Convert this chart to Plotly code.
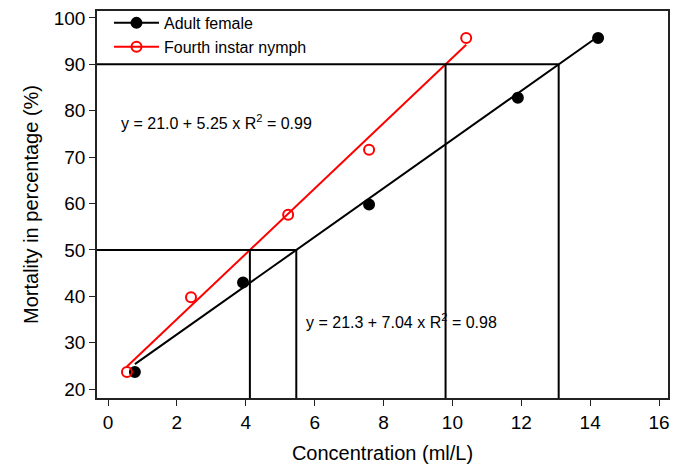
import plotly.graph_objects as go

# ---- data ----
adult_x = [0.78, 3.92, 7.58, 11.9, 14.23]
adult_y = [23.7, 43.0, 59.8, 82.8, 95.7]
nymph_x = [0.55, 2.41, 5.23, 7.58, 10.4]
nymph_y = [23.7, 39.8, 57.6, 71.6, 95.7]

series_names = ["Adult female", "Fourth instar nymph"]
# regression lines as drawn in the chart (intercept, slope)
adult_fit = (21.3, 5.25)
nymph_fit = (21.0, 7.04)
lethal_levels = [50, 90]

equation_texts = ["y = 21.0 + 5.25 x R<sup>2</sup> = 0.99",
                  "y = 21.3 + 7.04 x R<sup>2</sup> = 0.98"]
equation_pos = [(3.16, 77.6), (8.52, 34.6)]

x_ticks = [0, 2, 4, 6, 8, 10, 12, 14, 16]
y_ticks = [20, 30, 40, 50, 60, 70, 80, 90, 100]
x_range = [-0.32, 16.26]
y_range = [18.1, 101.5]

FONT = "Liberation Sans, Arial, sans-serif"

fig = go.Figure()

def add_series(xs, ys, fit, name, color, filled):
    b, m = fit
    x0, x1 = min(xs), max(xs)
    marker = dict(symbol="circle" if filled else "circle-open",
                  size=10, color=color, line=dict(color=color, width=2))
    fig.add_trace(go.Scatter(
        x=[x0, x1], y=[b + m * x0, b + m * x1], mode="lines",
        line=dict(color=color, width=2), showlegend=False, hoverinfo="skip"))
    fig.add_trace(go.Scatter(
        x=xs, y=ys, mode="markers", name=name, showlegend=False, marker=marker))
    # legend entry (line + marker)
    fig.add_trace(go.Scatter(
        x=[None], y=[None], mode="lines+markers", name=name,
        line=dict(color=color, width=2), marker=marker))

add_series(adult_x, adult_y, adult_fit, series_names[0], "black", True)
add_series(nymph_x, nymph_y, nymph_fit, series_names[1], "red", False)

# drop lines at LC50 / LC90
for lvl in lethal_levels:
    xs = [(lvl - f[0]) / f[1] for f in (adult_fit, nymph_fit)]
    fig.add_shape(type="line", xref="x", yref="y", x0=x_range[0], x1=max(xs),
                  y0=lvl, y1=lvl, line=dict(color="black", width=2))
    for xv in xs:
        fig.add_shape(type="line", xref="x", yref="y", x0=xv, x1=xv,
                      y0=y_range[0], y1=lvl, line=dict(color="black", width=2))

for txt, (ex, ey) in zip(equation_texts, equation_pos):
    fig.add_annotation(x=ex, y=ey, xref="x", yref="y", text=txt, showarrow=False,
                       xanchor="center", yanchor="middle",
                       font=dict(family=FONT, size=16, color="black"))

axis_common = dict(showline=True, linecolor="#222", linewidth=1.5, mirror=True,
                   ticks="outside", ticklen=6, tickwidth=1.2, tickcolor="#222",
                   showgrid=False, zeroline=False, automargin=False,
                   tickfont=dict(family=FONT, size=19, color="black"))

fig.update_layout(
    width=687, height=464,
    margin=dict(l=97, r=19, t=11, b=66, autoexpand=False),
    plot_bgcolor="white", paper_bgcolor="white",
    font=dict(family=FONT, color="black"),
    xaxis=dict(range=x_range, tickvals=x_ticks, **axis_common,
               title=dict(text="Concentration (ml/L)", standoff=14,
                          font=dict(family=FONT, size=20, color="black"))),
    yaxis=dict(range=y_range, tickvals=y_ticks, **axis_common,
               title=dict(text="Mortality in percentage (%)", standoff=10,
                          font=dict(family=FONT, size=20, color="black"))),
    legend=dict(x=0.021, y=1.013, xanchor="left", yanchor="top",
                bgcolor="rgba(0,0,0,0)", borderwidth=0, itemwidth=45,
                font=dict(family=FONT, size=16, color="black"),
                tracegroupgap=0),
)

fig.write_html("out.html", config={"displayModeBar": False},
               post_script="document.body.style.margin='0';document.body.style.overflow='hidden';")
